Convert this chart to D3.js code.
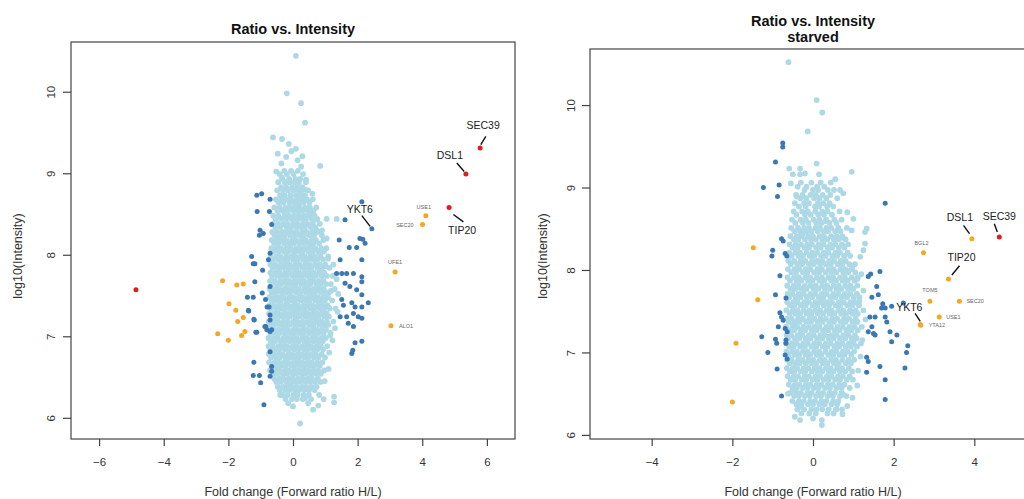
<!DOCTYPE html>
<html>
<head>
<meta charset="utf-8">
<script src="https://cdn.jsdelivr.net/npm/d3@7"></script>
<style>
  body { margin: 0; background: #fff; }
  svg { display: block; font-family: "Liberation Sans", Arial, Helvetica, sans-serif; }
</style>
</head>
<body>
<svg id="chart"></svg>
<script>
// ---------- data ----------
const xTicksFed = [-6, -4, -2, 0, 2, 4, 6];
const xTicksStarved = [-4, -2, 0, 2, 4];
const yTicks = [6, 7, 8, 9, 10];

// light blue cloud, fed: each row = [log10 intensity, ratio, ratio, ...]
const cloudRowsFed = [
  [9.03, -0.27, -0.06, 0.15],
  [8.99, -0.41, -0.19, 0.02, 0.31],
  [8.93, -0.33, -0.12, 0.07, 0.22],
  [8.89, -0.46, -0.25, -0.11, 0.05, 0.18, 0.40],
  [8.83, -0.37, -0.21, -0.03, 0.13, 0.29],
  [8.79, -0.49, -0.31, -0.15, 0.01, 0.17, 0.27, 0.47],
  [8.73, -0.40, -0.26, -0.08, 0.09, 0.23, 0.37],
  [8.68, -0.53, -0.36, -0.19, -0.05, 0.12, 0.28, 0.43, 0.61],
  [8.64, -0.45, -0.30, -0.11, 0.04, 0.19, 0.33, 0.51],
  [8.58, -0.58, -0.41, -0.23, -0.08, 0.07, 0.21, 0.38, 0.52, 0.72],
  [8.54, -0.48, -0.32, -0.17, 0.00, 0.15, 0.29, 0.46, 0.63],
  [8.48, -0.61, -0.45, -0.26, -0.12, 0.05, 0.19, 0.34, 0.47, 0.67],
  [8.44, -0.54, -0.37, -0.21, -0.04, 0.11, 0.26, 0.40, 0.58, 0.75],
  [8.38, -0.62, -0.46, -0.30, -0.16, 0.01, 0.14, 0.32, 0.45, 0.61, 0.83],
  [8.34, -0.55, -0.40, -0.21, -0.08, 0.09, 0.23, 0.37, 0.55, 0.69],
  [8.28, -0.64, -0.49, -0.32, -0.17, -0.03, 0.12, 0.29, 0.42, 0.59, 0.77],
  [8.24, -0.57, -0.40, -0.26, -0.09, 0.06, 0.21, 0.34, 0.51, 0.65, 0.89],
  [8.18, -0.66, -0.51, -0.34, -0.20, -0.03, 0.10, 0.27, 0.40, 0.58, 0.71, 0.94],
  [8.14, -0.58, -0.44, -0.27, -0.11, 0.02, 0.19, 0.34, 0.49, 0.63, 0.81],
  [8.08, -0.67, -0.51, -0.37, -0.20, -0.07, 0.10, 0.23, 0.38, 0.56, 0.69, 0.87, 1.03],
  [8.04, -0.61, -0.44, -0.28, -0.15, 0.02, 0.17, 0.30, 0.47, 0.61, 0.78, 0.96],
  [7.98, -0.69, -0.52, -0.39, -0.21, -0.06, 0.07, 0.24, 0.37, 0.54, 0.67, 0.85, 1.09],
  [7.94, -0.62, -0.45, -0.30, -0.16, 0.01, 0.14, 0.31, 0.44, 0.61, 0.75, 0.93],
  [7.88, -0.70, -0.55, -0.38, -0.23, -0.09, 0.08, 0.21, 0.38, 0.51, 0.68, 0.83, 1.00],
  [7.84, -0.63, -0.47, -0.32, -0.16, -0.01, 0.12, 0.29, 0.44, 0.57, 0.75, 0.89, 1.13],
  [7.78, -0.70, -0.54, -0.41, -0.24, -0.10, 0.06, 0.19, 0.36, 0.50, 0.65, 0.82, 0.96],
  [7.74, -0.65, -0.48, -0.33, -0.19, -0.02, 0.13, 0.26, 0.43, 0.58, 0.71, 0.89, 1.05, 1.23],
  [7.68, -0.71, -0.57, -0.40, -0.25, -0.12, 0.05, 0.20, 0.33, 0.50, 0.63, 0.80, 0.94],
  [7.64, -0.65, -0.49, -0.36, -0.19, -0.04, 0.09, 0.26, 0.41, 0.54, 0.72, 0.85, 1.02, 1.17],
  [7.58, -0.72, -0.56, -0.43, -0.26, -0.11, 0.04, 0.17, 0.34, 0.47, 0.64, 0.78, 0.95, 1.29],
  [7.54, -0.66, -0.52, -0.35, -0.20, -0.07, 0.10, 0.23, 0.40, 0.55, 0.68, 0.86, 0.99, 1.12],
  [7.48, -0.73, -0.57, -0.42, -0.29, -0.12, 0.01, 0.18, 0.31, 0.48, 0.63, 0.77, 0.94, 1.08],
  [7.44, -0.66, -0.51, -0.38, -0.21, -0.06, 0.07, 0.24, 0.39, 0.52, 0.69, 0.82, 0.99, 1.21],
  [7.38, -0.73, -0.59, -0.43, -0.28, -0.15, 0.02, 0.15, 0.32, 0.46, 0.60, 0.77, 0.90, 1.07],
  [7.34, -0.68, -0.52, -0.37, -0.24, -0.07, 0.06, 0.23, 0.37, 0.53, 0.66, 0.83, 0.97, 1.14, 1.32],
  [7.28, -0.74, -0.58, -0.45, -0.28, -0.14, 0.01, 0.14, 0.31, 0.44, 0.61, 0.75, 0.91, 1.04],
  [7.24, -0.67, -0.54, -0.38, -0.23, -0.10, 0.07, 0.20, 0.37, 0.50, 0.67, 0.80, 0.97, 1.11],
  [7.18, -0.75, -0.59, -0.46, -0.29, -0.16, 0.01, 0.13, 0.30, 0.45, 0.58, 0.75, 0.88, 1.05, 1.25],
  [7.14, -0.68, -0.55, -0.38, -0.24, -0.11, 0.06, 0.21, 0.34, 0.51, 0.64, 0.81, 0.96, 1.09],
  [7.08, -0.75, -0.61, -0.44, -0.30, -0.17, 0.00, 0.13, 0.30, 0.43, 0.59, 0.72, 0.89, 1.02],
  [7.04, -0.70, -0.54, -0.41, -0.24, -0.09, 0.04, 0.21, 0.33, 0.50, 0.65, 0.78, 0.95, 1.16],
  [6.98, -0.76, -0.60, -0.47, -0.30, -0.17, -0.01, 0.12, 0.29, 0.42, 0.59, 0.71, 0.88, 1.01],
  [6.94, -0.69, -0.56, -0.39, -0.26, -0.10, 0.05, 0.18, 0.35, 0.48, 0.64, 0.79, 0.92],
  [6.88, -0.76, -0.62, -0.45, -0.31, -0.18, -0.01, 0.12, 0.28, 0.43, 0.56, 0.73, 0.86, 1.06],
  [6.84, -0.70, -0.55, -0.42, -0.25, -0.12, 0.04, 0.17, 0.34, 0.47, 0.63, 0.76, 0.93],
  [6.78, -0.75, -0.61, -0.45, -0.32, -0.15, -0.02, 0.14, 0.27, 0.43, 0.58, 0.71, 0.89],
  [6.74, -0.68, -0.53, -0.40, -0.23, -0.10, 0.06, 0.19, 0.35, 0.48, 0.65, 0.79, 0.99],
  [6.68, -0.74, -0.57, -0.44, -0.28, -0.15, 0.02, 0.16, 0.29, 0.45, 0.58, 0.75, 0.91],
  [6.64, -0.66, -0.52, -0.36, -0.23, -0.06, 0.07, 0.23, 0.36, 0.52, 0.66, 0.83],
  [6.58, -0.71, -0.55, -0.42, -0.25, -0.12, 0.04, 0.17, 0.33, 0.47, 0.63, 0.78, 0.96],
  [6.54, -0.62, -0.49, -0.32, -0.19, -0.03, 0.10, 0.27, 0.40, 0.56, 0.71, 0.86],
  [6.48, -0.58, -0.42, -0.29, -0.13, 0.00, 0.17, 0.30, 0.46, 0.59, 0.77],
  [6.44, -0.52, -0.38, -0.21, -0.08, 0.08, 0.21, 0.37, 0.52, 0.68, 0.85],
  [6.38, -0.47, -0.31, -0.18, -0.02, 0.11, 0.28, 0.41, 0.57, 0.73],
  [6.34, -0.41, -0.24, -0.11, 0.06, 0.19, 0.35, 0.50, 0.67],
  [6.28, -0.33, -0.17, 0.01, 0.14, 0.32, 0.49, 0.81],
  [6.23, -0.23, -0.03, 0.12, 0.30, 0.56, 0.95]
];
// scattered light blue points in and around the fed cloud: [ratio, intensity]
const cloudLooseFed = [
  [0.09, 10.44], [-0.19, 9.98], [0.25, 9.86], [0.37, 9.62], [-0.62, 9.44], [-0.34, 9.42],
  [-0.13, 9.36], [0.09, 9.30], [-0.47, 9.24], [-0.21, 9.20], [0.14, 9.16], [0.84, 9.09],
  [-0.05, 9.27], [0.29, 9.21], [-0.36, 9.12], [0.25, 9.08], [-0.52, 9.02], [0.40, 8.92],
  [0.38, 8.80], [0.60, 8.75], [0.73, 8.43], [1.04, 8.44], [1.35, 8.44], [0.73, 8.30],
  [0.90, 8.30], [1.04, 8.20], [0.84, 8.00], [1.08, 7.95], [1.25, 7.88], [1.35, 7.70],
  [1.40, 7.52], [1.38, 7.30], [1.30, 7.10], [1.22, 6.95], [1.12, 6.80], [1.10, 6.60],
  [0.98, 6.45], [0.00, 6.14], [0.37, 6.24], [0.47, 6.18], [1.27, 6.26], [1.27, 6.19],
  [0.22, 5.93], [0.78, 6.15], [-0.15, 6.18], [0.62, 6.10], [-0.40, 6.28],
  [-0.35, 8.95], [0.10, 8.62], [-0.45, 8.21], [0.52, 8.11], [-0.20, 7.91], [0.30, 7.76],
  [0.80, 7.61], [-0.55, 7.46], [0.15, 7.31], [0.65, 7.21], [-0.30, 7.06], [0.45, 6.91],
  [0.05, 6.71], [-0.48, 6.61], [0.90, 7.41], [1.00, 7.86], [0.20, 8.36], [-0.05, 8.06],
  [0.58, 8.51], [-0.60, 7.76], [0.35, 6.56], [-0.15, 6.41], [0.70, 6.86], [1.18, 7.56],
  [1.15, 7.01]
];
const darkFed = [
  [-1.12, 8.73], [-0.97, 8.75], [-0.71, 8.68], [-1.11, 8.53], [-0.73, 8.53], [-1.02, 8.30],
  [-0.92, 8.26], [-1.04, 8.24], [-0.66, 8.37], [-1.28, 7.98], [-1.23, 7.89], [-0.71, 8.02],
  [-0.76, 7.94], [-0.94, 7.81], [-1.18, 7.89], [-1.18, 7.67], [-0.71, 7.61], [-1.41, 7.48],
  [-1.23, 7.48], [-0.95, 7.53], [-0.85, 7.45], [-0.74, 7.36], [-1.37, 7.31], [-1.20, 7.20],
  [-0.71, 7.26], [-0.71, 7.20], [-1.15, 7.05], [-0.87, 7.12], [-0.81, 7.08], [-0.71, 7.06],
  [-0.66, 7.08], [-0.71, 6.81], [-1.21, 6.68], [-0.66, 6.63], [-0.66, 6.57], [-1.23, 6.52],
  [-1.04, 6.52], [-1.00, 6.43], [-0.71, 6.51], [-0.90, 6.16], [-1.38, 7.32], [-0.80, 7.36],
  [-1.21, 7.21], [-0.84, 7.12], [-1.12, 7.05],
  [1.61, 8.43], [2.13, 8.65], [2.16, 8.19], [2.23, 8.14], [1.74, 8.09], [1.97, 8.09],
  [2.13, 7.94], [1.46, 7.94], [1.51, 7.77], [1.66, 7.77], [1.87, 7.77], [2.13, 7.73],
  [2.13, 7.67], [1.61, 7.65], [1.76, 7.61], [1.97, 7.57], [2.13, 7.51], [1.51, 7.45],
  [1.56, 7.38], [1.82, 7.41], [1.92, 7.36], [2.13, 7.36], [2.33, 7.41], [1.46, 7.24],
  [1.66, 7.24], [1.87, 7.28], [2.02, 7.24], [2.13, 7.22], [1.71, 7.16], [1.87, 7.12],
  [1.92, 6.92], [2.13, 6.94], [1.82, 6.79], [1.85, 6.83], [1.35, 7.77], [1.43, 8.18],
  [2.07, 8.20]
];
const orangeFed = [
  [-2.18, 7.68], [-1.74, 7.63], [-1.54, 7.64], [-1.98, 7.40], [-1.77, 7.32], [-1.54, 7.23],
  [-1.71, 7.18], [-2.33, 7.03], [-2.00, 6.95], [-1.59, 7.01], [-1.49, 7.06]
];
const redFed = [[-4.86, 7.57]];
// named proteins, fed: [name, ratio, intensity, group]
const genesFed = [
  ['YKT6', 2.44, 8.32, 'dark'],
  ['USE1', 4.11, 8.48, 'orange'],
  ['SEC20', 4.01, 8.37, 'orange'],
  ['UFE1', 3.16, 7.79, 'orange'],
  ['ALO1', 3.03, 7.13, 'orange'],
  ['TIP20', 4.83, 8.58, 'red'],
  ['DSL1', 5.35, 8.99, 'red'],
  ['SEC39', 5.79, 9.31, 'red']
];

// light blue cloud, starved
const cloudRowsStarved = [
  [9.06, -0.30, -0.04, 0.19, 0.44],
  [9.01, -0.38, -0.16, 0.10, 0.28],
  [8.97, -0.21, 0.00, 0.13, 0.37, 0.52],
  [8.91, -0.42, -0.26, -0.06, 0.07, 0.24, 0.43],
  [8.87, -0.31, -0.17, 0.03, 0.16, 0.33, 0.60],
  [8.81, -0.45, -0.22, -0.10, 0.12, 0.25, 0.41],
  [8.77, -0.35, -0.18, 0.05, 0.15, 0.35, 0.50],
  [8.71, -0.48, -0.27, -0.13, 0.06, 0.23, 0.36, 0.66],
  [8.67, -0.41, -0.20, -0.06, 0.13, 0.27, 0.47],
  [8.61, -0.52, -0.31, -0.18, 0.02, 0.16, 0.33, 0.53, 0.71],
  [8.57, -0.44, -0.25, -0.11, 0.08, 0.21, 0.41, 0.58],
  [8.51, -0.54, -0.37, -0.22, -0.10, 0.06, 0.17, 0.33, 0.45, 0.63, 0.84],
  [8.47, -0.46, -0.32, -0.16, -0.04, 0.12, 0.27, 0.37, 0.55, 0.68],
  [8.41, -0.56, -0.40, -0.29, -0.12, 0.00, 0.17, 0.27, 0.45, 0.59, 0.73],
  [8.37, -0.48, -0.36, -0.20, -0.05, 0.07, 0.23, 0.35, 0.52, 0.63, 0.81],
  [8.31, -0.58, -0.43, -0.30, -0.14, -0.03, 0.14, 0.26, 0.43, 0.55, 0.72, 0.87],
  [8.27, -0.50, -0.38, -0.21, -0.10, 0.08, 0.19, 0.36, 0.47, 0.64, 0.78],
  [8.21, -0.59, -0.44, -0.32, -0.16, -0.02, 0.10, 0.27, 0.38, 0.56, 0.67, 0.86],
  [8.17, -0.53, -0.36, -0.25, -0.08, 0.03, 0.20, 0.31, 0.48, 0.60, 0.77, 0.92],
  [8.11, -0.61, -0.47, -0.31, -0.19, -0.02, 0.11, 0.23, 0.40, 0.52, 0.69, 0.81],
  [8.07, -0.55, -0.39, -0.27, -0.10, 0.02, 0.18, 0.32, 0.44, 0.61, 0.73, 0.90, 1.04],
  [8.01, -0.62, -0.46, -0.34, -0.18, -0.06, 0.11, 0.22, 0.39, 0.51, 0.68, 0.80, 0.97],
  [7.97, -0.54, -0.42, -0.25, -0.14, 0.03, 0.15, 0.31, 0.45, 0.58, 0.75, 0.87, 1.05],
  [7.91, -0.63, -0.47, -0.35, -0.19, -0.07, 0.09, 0.22, 0.38, 0.50, 0.67, 0.79, 0.96, 1.11],
  [7.87, -0.57, -0.41, -0.29, -0.12, -0.01, 0.16, 0.28, 0.45, 0.57, 0.73, 0.86, 1.03],
  [7.81, -0.64, -0.48, -0.36, -0.20, -0.06, 0.07, 0.23, 0.35, 0.51, 0.64, 0.80, 0.93, 1.10],
  [7.77, -0.56, -0.44, -0.28, -0.16, 0.01, 0.13, 0.29, 0.42, 0.58, 0.70, 0.87, 1.00],
  [7.71, -0.63, -0.51, -0.35, -0.23, -0.07, 0.06, 0.22, 0.34, 0.50, 0.63, 0.79, 0.92, 1.09],
  [7.67, -0.59, -0.43, -0.31, -0.15, -0.02, 0.14, 0.26, 0.43, 0.55, 0.71, 0.84, 1.01, 1.15],
  [7.61, -0.64, -0.49, -0.38, -0.22, -0.10, 0.06, 0.19, 0.35, 0.47, 0.64, 0.76, 0.93, 1.05],
  [7.57, -0.57, -0.46, -0.30, -0.18, -0.01, 0.11, 0.27, 0.40, 0.56, 0.68, 0.85, 0.98, 1.14],
  [7.51, -0.66, -0.50, -0.38, -0.23, -0.09, 0.05, 0.18, 0.34, 0.46, 0.63, 0.75, 0.92, 1.06, 1.25],
  [7.47, -0.58, -0.44, -0.32, -0.16, -0.04, 0.12, 0.25, 0.41, 0.53, 0.70, 0.82, 0.99, 1.11],
  [7.41, -0.65, -0.53, -0.37, -0.25, -0.09, 0.03, 0.19, 0.32, 0.48, 0.60, 0.77, 0.89, 1.06],
  [7.37, -0.60, -0.45, -0.33, -0.17, -0.05, 0.11, 0.24, 0.40, 0.52, 0.69, 0.81, 0.98, 1.10],
  [7.31, -0.67, -0.51, -0.39, -0.24, -0.10, 0.04, 0.16, 0.33, 0.45, 0.61, 0.74, 0.90, 1.03, 1.21],
  [7.27, -0.59, -0.47, -0.31, -0.19, -0.03, 0.09, 0.25, 0.38, 0.54, 0.66, 0.83, 0.95, 1.11],
  [7.21, -0.65, -0.54, -0.38, -0.26, -0.10, 0.02, 0.18, 0.30, 0.47, 0.59, 0.75, 0.88, 1.04],
  [7.17, -0.61, -0.45, -0.34, -0.18, -0.06, 0.10, 0.23, 0.39, 0.51, 0.67, 0.80, 0.96, 1.08],
  [7.11, -0.67, -0.52, -0.40, -0.24, -0.13, 0.03, 0.15, 0.32, 0.44, 0.60, 0.73, 0.89, 1.01, 1.19],
  [7.07, -0.59, -0.48, -0.32, -0.20, -0.04, 0.08, 0.24, 0.36, 0.53, 0.65, 0.81, 0.94, 1.09],
  [7.01, -0.66, -0.52, -0.40, -0.25, -0.13, 0.03, 0.15, 0.31, 0.46, 0.58, 0.74, 0.86, 1.02],
  [6.97, -0.61, -0.46, -0.34, -0.18, -0.07, 0.09, 0.21, 0.38, 0.50, 0.66, 0.78, 0.95],
  [6.91, -0.64, -0.53, -0.37, -0.26, -0.11, 0.01, 0.17, 0.29, 0.45, 0.57, 0.73, 0.88, 1.02],
  [6.87, -0.58, -0.45, -0.33, -0.18, -0.04, 0.08, 0.24, 0.36, 0.52, 0.64, 0.81, 0.94],
  [6.81, -0.65, -0.50, -0.39, -0.23, -0.12, 0.04, 0.16, 0.32, 0.44, 0.60, 0.72, 0.89],
  [6.77, -0.57, -0.46, -0.30, -0.19, -0.03, 0.11, 0.23, 0.39, 0.51, 0.67, 0.80, 0.97],
  [6.71, -0.63, -0.48, -0.37, -0.21, -0.10, 0.06, 0.18, 0.34, 0.46, 0.62, 0.74, 0.91],
  [6.67, -0.55, -0.44, -0.28, -0.17, -0.01, 0.11, 0.27, 0.39, 0.55, 0.67, 0.84, 0.99],
  [6.61, -0.60, -0.45, -0.34, -0.18, -0.07, 0.09, 0.21, 0.37, 0.49, 0.65, 0.78],
  [6.57, -0.51, -0.40, -0.25, -0.13, 0.02, 0.14, 0.30, 0.42, 0.58, 0.71, 0.91],
  [6.51, -0.56, -0.41, -0.30, -0.14, -0.03, 0.13, 0.25, 0.41, 0.54, 0.71],
  [6.47, -0.47, -0.35, -0.20, -0.08, 0.08, 0.20, 0.36, 0.49, 0.67, 0.83],
  [6.41, -0.51, -0.35, -0.23, -0.07, 0.05, 0.21, 0.33, 0.50, 0.63],
  [6.37, -0.41, -0.29, -0.12, 0.00, 0.16, 0.29, 0.46, 0.60],
  [6.31, -0.39, -0.22, -0.04, 0.09, 0.23, 0.39, 0.58, 0.72],
  [6.26, -0.29, -0.09, 0.07, 0.36, 0.51]
];
const cloudLooseStarved = [
  [-0.61, 10.52], [0.09, 10.06], [0.23, 9.91], [-0.13, 9.68], [0.96, 9.19], [-0.59, 9.23],
  [-0.32, 9.23], [0.09, 9.29], [-0.50, 9.16], [-0.32, 9.16], [-0.20, 9.17], [0.15, 9.16],
  [0.67, 8.97], [0.75, 8.93], [-0.55, 9.05], [0.55, 9.10], [0.96, 8.48], [1.29, 8.46],
  [1.33, 8.50], [1.29, 8.32], [1.25, 8.24], [1.17, 8.16], [0.96, 8.04], [1.00, 8.62],
  [0.85, 8.70], [1.20, 7.95], [1.25, 7.75], [1.30, 7.40], [1.22, 7.15], [1.18, 6.95],
  [1.12, 6.78], [1.10, 6.60], [0.98, 6.45], [0.22, 6.18], [0.22, 6.12], [0.57, 6.31],
  [0.73, 6.25], [-0.32, 6.18], [-0.45, 6.22], [0.85, 6.35], [0.00, 6.20], [-0.62, 6.50],
  [-0.40, 8.89], [0.30, 8.59], [-0.10, 8.29], [0.55, 8.19], [0.85, 7.99], [-0.35, 7.79],
  [0.25, 7.64], [0.95, 7.49], [-0.50, 7.34], [0.40, 7.19], [1.00, 7.14], [-0.15, 6.99],
  [0.60, 6.84], [0.10, 6.69], [-0.45, 6.54], [0.75, 6.49], [1.15, 7.62], [1.10, 7.89],
  [0.70, 8.39], [-0.25, 8.44], [0.20, 6.39], [-0.30, 6.34]
];
const darkStarved = [
  [-0.75, 9.54], [-0.75, 9.49], [-0.93, 9.31], [-1.23, 9.00], [-0.84, 9.03], [-0.88, 8.89],
  [1.79, 8.81], [-0.78, 8.38], [-0.74, 8.35], [-1.00, 8.24], [-1.02, 8.17], [-0.69, 8.20],
  [-0.65, 8.17], [-0.82, 7.93], [-0.93, 7.70], [-0.67, 7.66], [1.37, 7.92], [1.43, 7.95],
  [1.66, 7.98], [1.58, 7.80], [1.46, 7.67], [1.62, 7.70], [1.70, 7.54], [1.79, 7.54],
  [1.73, 7.59], [1.95, 7.56], [1.41, 7.43], [1.54, 7.43], [1.79, 7.43], [1.83, 7.37],
  [1.46, 7.31], [1.50, 7.23], [1.54, 7.21], [1.37, 7.25], [1.91, 7.25], [2.08, 7.21],
  [1.95, 7.13], [2.35, 7.08], [2.32, 7.00], [2.28, 6.81], [1.33, 6.94], [1.37, 6.89],
  [1.66, 6.83], [1.33, 6.76], [1.79, 6.67], [1.79, 6.43], [-0.82, 7.48], [-0.78, 7.43],
  [-0.74, 7.39], [-0.86, 7.31], [-0.69, 7.29], [-0.64, 7.25], [-1.27, 7.19], [-0.93, 7.16],
  [-0.90, 7.11], [-0.67, 7.11], [-1.12, 7.00], [-0.69, 6.97], [-0.64, 6.92], [-0.89, 6.80],
  [-0.78, 6.47], [2.24, 7.60], [-0.67, 7.15]
];
const orangeStarved = [[-1.48, 8.27], [-1.37, 7.64], [-1.91, 7.11], [-2.00, 6.40]];
const redStarved = [];
const genesStarved = [
  ['BGL2', 2.74, 8.21, 'orange'],
  ['TOM5', 2.90, 7.62, 'orange'],
  ['SEC20', 3.63, 7.62, 'orange'],
  ['USE1', 3.13, 7.43, 'orange'],
  ['YTA12', 2.67, 7.33, 'orange'],
  ['YKT6', 2.66, 7.34, 'orange'],
  ['TIP20', 3.36, 7.89, 'orange'],
  ['DSL1', 3.94, 8.38, 'orange'],
  ['SEC39', 4.62, 8.40, 'red']
];

// ---------- label placement (pixel offsets from the point) ----------
const labelLayoutFed = {
  SEC39: { dx: 3, dy: -19, big: true, line: [5.7, -11.6, 0.7, -3.3] },
  DSL1: { dx: -16, dy: -15, big: true, line: [-9, -11, -1.7, -2.6] },
  TIP20: { dx: 13, dy: 27, big: true, line: [4.3, 7, 14.3, 14.4] },
  YKT6: { dx: -12, dy: -16, big: true, line: [-10, -13, -1.7, -2.3] },
  USE1: { dx: -2, dy: -7 },
  SEC20: { dx: -9, dy: 2, anchor: 'end' },
  UFE1: { dx: 0, dy: -8 },
  ALO1: { dx: 8, dy: 2, anchor: 'start' }
};
const labelLayoutStarved = {
  SEC39: { dx: 0, dy: -17, big: true, line: [-5, -13.3, -2, -5] },
  DSL1: { dx: -12, dy: -18, big: true, line: [-8.4, -13.3, -2.4, -5] },
  TIP20: { dx: 13, dy: -18, big: true, line: [11, -13.3, 3.4, -4] },
  YKT6: { dx: -11, dy: -13, big: true, line: [-5.2, -11, 0, -3] },
  BGL2: { dx: -2, dy: -8 },
  TOM5: { dx: 0, dy: -9 },
  SEC20: { dx: 7, dy: 2, anchor: 'start' },
  USE1: { dx: 7, dy: 2, anchor: 'start' },
  YTA12: { dx: 8, dy: 2, anchor: 'start' }
};

// ---------- drawing ----------
const width = 1024, height = 499;
const colors = { light: '#add8e6', dark: '#3b78b3', orange: '#f5a623', red: '#e41a1c' };
const radius = { light: 2.9, dark: 2.5, orange: 2.5, red: 2.5 };

const svg = d3.select('#chart').attr('width', width).attr('height', height);
const defs = svg.append('defs');

function rowsToPoints(rows) {
  const out = [];
  rows.forEach(row => row.slice(1).forEach(v => out.push([v, row[0]])));
  return out;
}

function drawPanel(p) {
  const x = d3.scaleLinear().domain(p.xDomain).range([p.left, p.right]);
  const y = d3.scaleLinear().domain(p.yDomain).range([p.bottom, p.top]);
  const g = svg.append('g');

  defs.append('clipPath').attr('id', p.id)
    .append('rect')
    .attr('x', p.left).attr('y', p.top)
    .attr('width', p.right - p.left).attr('height', p.bottom - p.top);

  const plot = g.append('g').attr('clip-path', `url(#${p.id})`);

  const geneDots = p.genes.map(d => [d[1], d[2], d[3]]);
  const layers = [
    [p.light, 'light'],
    [p.dark.concat(geneDots.filter(d => d[2] === 'dark')), 'dark'],
    [p.orange.concat(geneDots.filter(d => d[2] === 'orange')), 'orange'],
    [p.red.concat(geneDots.filter(d => d[2] === 'red')), 'red']
  ];
  layers.forEach(([pts, key]) => {
    plot.append('g').selectAll('circle').data(pts).enter()
      .append('circle')
      .attr('cx', d => x(d[0]))
      .attr('cy', d => y(d[1]))
      .attr('r', radius[key])
      .attr('fill', colors[key]);
  });

  // labels
  const lab = g.append('g');
  p.genes.forEach(d => {
    const L = p.layout[d[0]];
    if (!L) return;
    const px = x(d[1]), py = y(d[2]);
    if (L.line) {
      lab.append('line')
        .attr('x1', px + L.line[0]).attr('y1', py + L.line[1])
        .attr('x2', px + L.line[2]).attr('y2', py + L.line[3])
        .attr('stroke', '#111').attr('stroke-width', 1.4);
    }
    lab.append('text')
      .attr('x', px + L.dx).attr('y', py + L.dy)
      .attr('text-anchor', L.anchor || 'middle')
      .attr('font-size', L.big ? 10.5 : 5.5)
      .attr('fill', L.big ? '#222' : '#666')
      .text(d[0]);
  });

  // frame
  g.append('rect')
    .attr('x', p.left).attr('y', p.top)
    .attr('width', p.right - p.left).attr('height', p.bottom - p.top)
    .attr('fill', 'none').attr('stroke', '#444').attr('stroke-width', 1.2);

  // x axis
  const xAxis = d3.axisBottom(x).tickValues(p.xTicks).tickSize(7).tickPadding(12)
    .tickFormat(d3.format('d'));
  const xg = g.append('g').attr('transform', `translate(0, ${p.bottom})`).call(xAxis);
  xg.select('.domain').remove();
  xg.selectAll('line').attr('stroke', '#444').attr('stroke-width', 1.2);
  xg.selectAll('text').attr('font-size', 11.5).attr('fill', '#333')
    .attr('font-family', '"Liberation Sans", Arial, sans-serif');

  // y axis with labels parallel to the axis
  const yAxis = d3.axisLeft(y).tickValues(yTicks).tickSize(8).tickFormat(d3.format('d'));
  const yg = g.append('g').attr('transform', `translate(${p.left}, 0)`).call(yAxis);
  yg.select('.domain').remove();
  yg.selectAll('line').attr('stroke', '#444').attr('stroke-width', 1.2);
  yg.selectAll('text')
    .attr('x', 0).attr('y', 0).attr('dy', 0)
    .attr('text-anchor', 'middle')
    .attr('transform', `translate(${p.yTickOffset}, 0) rotate(-90)`)
    .attr('font-size', 11.5).attr('fill', '#333')
    .attr('font-family', '"Liberation Sans", Arial, sans-serif');

  // titles and axis titles
  p.title.forEach((t, i) => {
    g.append('text')
      .attr('x', p.titleX).attr('y', p.titleY[i])
      .attr('text-anchor', 'middle')
      .attr('font-weight', 'bold').attr('font-size', 14.5).attr('fill', '#111')
      .text(t);
  });
  g.append('text')
    .attr('x', p.titleX).attr('y', 496)
    .attr('text-anchor', 'middle').attr('font-size', 12.5).attr('fill', '#333')
    .text('Fold change (Forward ratio H/L)');
  g.append('text')
    .attr('transform', `translate(${p.yLabelX}, 256) rotate(-90)`)
    .attr('text-anchor', 'middle').attr('font-size', 12.5).attr('fill', '#333')
    .text('log10(Intensity)');
}

drawPanel({
  id: 'clipFed',
  left: 71, right: 515, top: 42, bottom: 439,
  xDomain: [-6.87, 6.87], yDomain: [5.74, 10.61],
  xTicks: xTicksFed,
  light: rowsToPoints(cloudRowsFed).concat(cloudLooseFed),
  dark: darkFed, orange: orangeFed, red: redFed,
  genes: genesFed, layout: labelLayoutFed,
  title: ['Ratio vs. Intensity'], titleX: 293, titleY: [34],
  yTickOffset: -16, yLabelX: 22
});

drawPanel({
  id: 'clipStarved',
  left: 590, right: 1036, top: 49, bottom: 439,
  xDomain: [-5.53, 5.53], yDomain: [5.95, 10.68],
  xTicks: xTicksStarved,
  light: rowsToPoints(cloudRowsStarved).concat(cloudLooseStarved),
  dark: darkStarved, orange: orangeStarved, red: redStarved,
  genes: genesStarved, layout: labelLayoutStarved,
  title: ['Ratio vs. Intensity', 'starved'], titleX: 813, titleY: [26, 42],
  yTickOffset: -15, yLabelX: 547
});
</script>
</body>
</html>
